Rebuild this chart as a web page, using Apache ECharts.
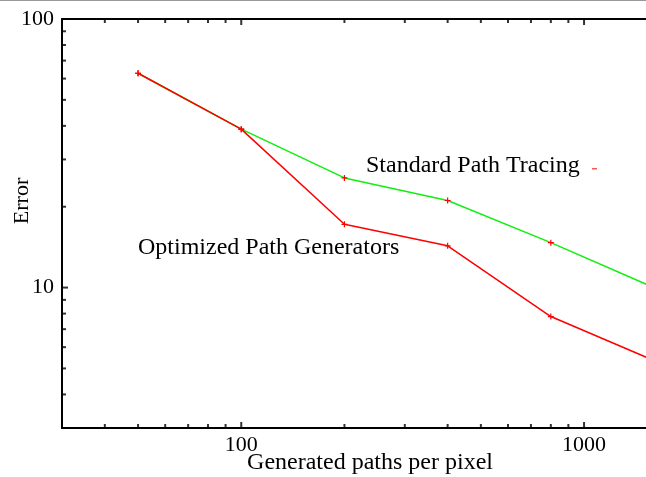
<!DOCTYPE html>
<html>
<head>
<meta charset="utf-8">
<style>
  html, body { margin: 0; padding: 0; background: #fff; }
  #chart { width: 646px; height: 477px; }
</style>
<script src="https://cdn.jsdelivr.net/npm/echarts@6/dist/echarts.min.js"></script>
</head>
<body>
<div id="chart"></div>
<script>
  // paths per pixel
  const samples = [50, 100, 200, 400, 800, 1600];
  // error values
  const standardPT = [62.8, 38.9, 25.6, 21.1, 14.7, 10.0];
  const optimizedPG = [62.8, 38.9, 17.2, 14.3, 7.8, 5.35];

  // axis ticks (log axes)
  const xMajor = [100, 1000];
  const xMinor = [40, 50, 60, 70, 80, 90, 200, 300, 400, 500, 600, 700, 800, 900];
  const yMajor = [10, 100];
  const yMinor = [4, 5, 6, 7, 8, 9, 20, 30, 40, 50, 60, 70, 80, 90];

  // the plot is cut at the right edge of the picture
  const X_MIN = 30, X_MAX = 1516, Y_MIN = 3, Y_MAX = 100;
  const FONT = "Liberation Serif, Times New Roman, serif";
  const PLUS = "path://M4,0H6V4H10V6H6V10H4V6H0V4H4Z";

  const pairs = (xs, ys) => xs.map((x, i) => [x, ys[i]]);

  // inward tick marks, drawn as thin rect symbols on the axis lines
  function tickSeries(values, side, len) {
    const n = len + 1;
    let data, size, offset;
    if (side === "bottom") {
      data = values.map((v) => [v, Y_MIN]);
      size = [2, n];
      offset = [0, -n / 2];
    } else if (side === "top") {
      data = values.map((v) => [v, Y_MAX]);
      size = [2, n];
      offset = [0, n / 2];
    } else {
      data = values.map((v) => [X_MIN, v]);
      size = [n, 2];
      offset = [n / 2, 0];
    }
    return {
      type: "scatter",
      data,
      symbol: "rect",
      symbolSize: size,
      symbolOffset: offset,
      itemStyle: { color: "#000" },
      silent: true,
      clip: false,
      z: 5,
    };
  }

  const chart = echarts.init(document.getElementById("chart"), null, { renderer: "canvas" });

  const logX = (extra) =>
    Object.assign(
      {
        type: "log",
        logBase: 10,
        min: X_MIN,
        max: X_MAX,
        axisLine: { show: true, lineStyle: { color: "#000", width: 2 } },
        axisTick: { show: false },
        splitLine: { show: false },
      },
      extra
    );

  chart.setOption({
    animation: false,
    backgroundColor: "#fff",
    grid: { left: 62, right: 0, top: 19, bottom: 49 },
    xAxis: [
      logX({
        position: "bottom",
        axisLabel: {
          color: "#000",
          fontFamily: FONT,
          fontSize: 22,
          margin: 6,
          showMinLabel: false,
          showMaxLabel: false,
          formatter: (v) => (xMajor.includes(Math.round(v)) ? String(Math.round(v)) : ""),
        },
      }),
      logX({ position: "top", axisLabel: { show: false } }),
    ],
    yAxis: {
      type: "log",
      logBase: 10,
      min: Y_MIN,
      max: Y_MAX,
      axisLine: { show: true, lineStyle: { color: "#000", width: 2 } },
      axisTick: { show: false },
      splitLine: { show: false },
      axisLabel: {
        color: "#000",
        fontFamily: FONT,
        fontSize: 22,
        margin: 8,
        showMinLabel: false,
        formatter: (v) => (yMajor.includes(Math.round(v)) ? String(Math.round(v)) : ""),
      },
    },
    series: [
      tickSeries(xMajor, "bottom", 5),
      tickSeries(xMinor, "bottom", 3),
      tickSeries(xMajor, "top", 5),
      tickSeries(xMinor, "top", 3),
      tickSeries(yMajor, "left", 5),
      tickSeries(yMinor, "left", 3),
      {
        type: "line",
        name: "Standard Path Tracing",
        data: pairs(samples, standardPT),
        symbol: PLUS,
        symbolSize: 6,
        showSymbol: true,
        lineStyle: { color: "#11ee11", width: 1.5 },
        itemStyle: { color: "#ff0000" },
        z: 2,
      },
      {
        type: "line",
        name: "Optimized Path Generators",
        data: pairs(samples, optimizedPG),
        symbol: PLUS,
        symbolSize: 6,
        showSymbol: true,
        lineStyle: { color: "#ff0000", width: 1.5 },
        itemStyle: { color: "#ff0000" },
        z: 3,
      },
    ],
    graphic: [
      { type: "rect", left: 0, top: 0, shape: { width: 646, height: 1 }, style: { fill: "#999" } },
      {
        type: "text",
        x: 22,
        y: 201,
        rotation: Math.PI / 2,
        style: { text: "Error", font: "22px " + FONT, fill: "#000", textAlign: "center", textVerticalAlign: "middle" },
      },
      {
        type: "text",
        x: 370,
        y: 463,
        style: { text: "Generated paths per pixel", font: "24px " + FONT, fill: "#000", textAlign: "center", textVerticalAlign: "middle" },
      },
      {
        type: "text",
        x: 366,
        y: 166,
        style: { text: "Standard Path Tracing", font: "24px " + FONT, fill: "#000", textAlign: "left", textVerticalAlign: "middle" },
      },
      { type: "rect", x: 592, y: 168, shape: { width: 5, height: 1.5 }, style: { fill: "#ff5555" } },
      {
        type: "text",
        x: 138,
        y: 248,
        style: { text: "Optimized Path Generators", font: "24px " + FONT, fill: "#000", textAlign: "left", textVerticalAlign: "middle" },
      },
    ],
  });
</script>
</body>
</html>
